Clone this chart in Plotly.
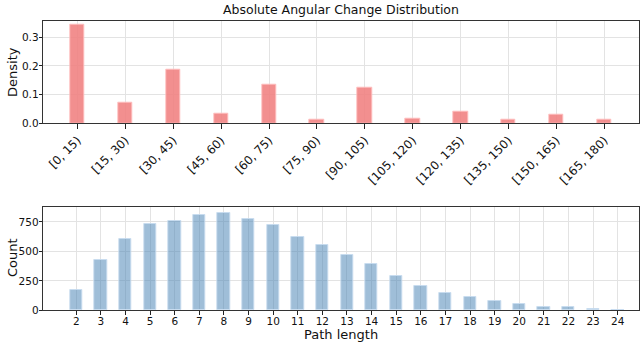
import plotly.graph_objects as go

angle_bins = ["[0, 15)", "[15, 30)", "[30, 45)", "[45, 60)", "[60, 75)", "[75, 90)",
              "[90, 105)", "[105, 120)", "[120, 135)", "[135, 150)", "[150, 165)", "[165, 180)"]
angle_density = [0.342, 0.073, 0.185, 0.035, 0.134, 0.014, 0.123, 0.016, 0.042, 0.012, 0.029, 0.014]

path_lengths = list(range(2, 25))
path_counts = [174, 427, 601, 733, 756, 806, 826, 775, 722, 624, 551, 466, 390, 287,
               202, 149, 115, 76, 56, 25, 25, 14, 2]

W, H = 640, 343
FONT = "DejaVu Sans"
x0, x1 = 43.3 / W, 638.5 / W

fig = go.Figure()
fig.add_trace(go.Bar(
    x=list(range(len(angle_bins))), y=angle_density, width=0.3,
    marker=dict(color="rgba(240,128,128,0.88)", line=dict(color="rgba(255,190,190,0.9)", width=1)),
    xaxis="x", yaxis="y", showlegend=False))
fig.add_trace(go.Bar(
    x=path_lengths, y=path_counts, width=0.5,
    marker=dict(color="rgba(70,130,180,0.52)", line=dict(color="rgba(200,220,240,0.9)", width=1)),
    xaxis="x2", yaxis="y2", showlegend=False))

axis_common = dict(showline=True, mirror=True, linecolor="#333333", linewidth=1.2,
                   showgrid=True, gridcolor="#e3e3e3", gridwidth=1, zeroline=False,
                   ticks="outside", ticklen=3.5, tickwidth=1, tickcolor="#222222",
                   tickfont=dict(family=FONT, size=10.5, color="#111111"), automargin=False)

top_x = dict(axis_common)
top_x["tickfont"] = dict(family=FONT, size=11.8, color="#111111")
top_x["ticklen"] = 4.5

fig.update_layout(
    width=W, height=H, margin=dict(l=0, r=0, t=0, b=0),
    paper_bgcolor="white", plot_bgcolor="white", bargap=0,
    xaxis=dict(domain=[x0, x1], anchor="y", range=[-0.714, 11.714],
               tickmode="array", tickvals=list(range(len(angle_bins))), ticktext=angle_bins,
               tickangle=-45, **top_x),
    yaxis=dict(domain=[1 - 123.3 / H, 1 - 20.7 / H], anchor="x", range=[0, 0.357],
               tickmode="array", tickvals=[0, 0.1, 0.2, 0.3], ticktext=["0.0", "0.1", "0.2", "0.3"],
               ticklabelstandoff=-2, **axis_common),
    xaxis2=dict(domain=[x0, x1], anchor="y2", range=[0.66, 24.845],
                tickmode="array", tickvals=path_lengths, ticktext=[str(v) for v in path_lengths],
                tickangle=0, ticklabelstandoff=-3, **axis_common),
    yaxis2=dict(domain=[1 - 310.3 / H, 1 - 207 / H], anchor="x2", range=[0, 876],
                tickmode="array", tickvals=[0, 250, 500, 750], ticklabelstandoff=-2, **axis_common),
    annotations=[
        dict(text="Absolute Angular Change Distribution", x=(x0 + x1) / 2, y=1 - 9 / H,
             xref="paper", yref="paper", showarrow=False, xanchor="center", yanchor="middle",
             font=dict(family=FONT, size=12.5, color="#111111")),
        dict(text="Density", x=12 / W, y=1 - 72 / H, xref="paper", yref="paper",
             showarrow=False, textangle=-90, xanchor="center", yanchor="middle",
             font=dict(family=FONT, size=13, color="#111111")),
        dict(text="Count", x=12 / W, y=1 - 258 / H, xref="paper", yref="paper",
             showarrow=False, textangle=-90, xanchor="center", yanchor="middle",
             font=dict(family=FONT, size=13, color="#111111")),
        dict(text="Path length", x=(x0 + x1) / 2, y=1 - 334 / H, xref="paper", yref="paper",
             showarrow=False, xanchor="center", yanchor="middle",
             font=dict(family=FONT, size=13, color="#111111")),
    ],
)

fig.write_html("out.html", config={"displayModeBar": False},
               post_script="document.body.style.margin='0';document.body.style.overflow='hidden';")
